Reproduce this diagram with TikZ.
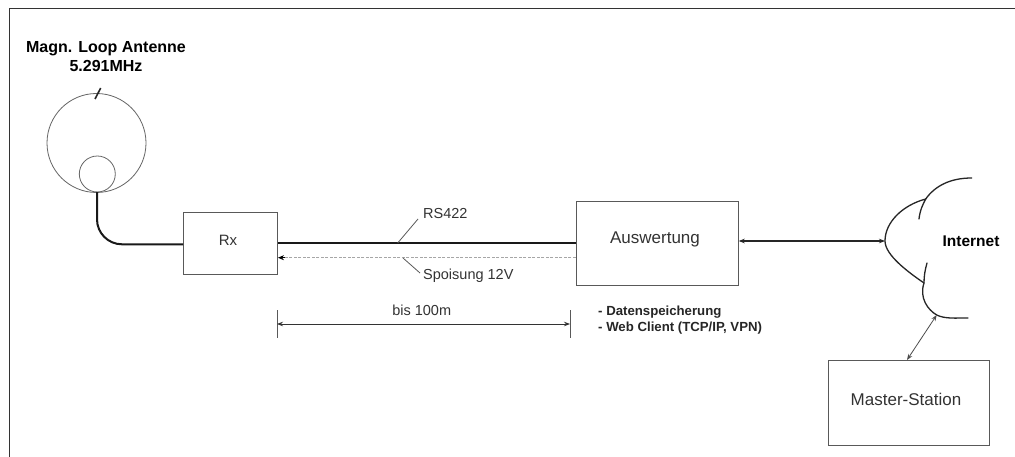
\documentclass[tikz,border=0pt]{standalone}
\usepackage{fontspec}
\setmainfont{Liberation Sans}
\usetikzlibrary{arrows.meta}
\tikzset{
  x=1pt,y=-1pt,
  boxn/.style={draw=black!65,line width=1.2pt,fill=white,inner sep=0pt,anchor=north west},
  thin line/.style={draw=black!65,line width=.8pt},
  cloud line/.style={draw=black!85,line width=1.3pt,line cap=round},
  cable/.style={draw=black!90,line width=2pt},
  tipb/.style={{Stealth[length=6pt,width=4.5pt]}-{Stealth[length=6pt,width=4.5pt]}},
  lab/.style={inner sep=0pt,text=black!80},
  labb/.style={inner sep=0pt,text=black,font=\bfseries\fontsize{16}{19}\selectfont},
  small text/.style={lab,font=\fontsize{14.5}{17}\selectfont},
  big text/.style={lab,font=\fontsize{17}{20}\selectfont},
}
\begin{document}
\begin{tikzpicture}
\useasboundingbox (0,0) rectangle (1015,457);
\fill[white] (0,0) rectangle (1015,457);
\coordinate (fa) at (9.5,457);\coordinate (fb) at (9.5,8.5);\coordinate (fc) at (1015,8.5);
\draw[black!80,line width=1pt] (fa) -- (fb) -- (fc);
% antenna
\node[labb,align=center] (title) at (106,56.5) {Magn. Loop Antenne\\5.291MHz};
\node[draw=black!60,line width=.8pt,circle,minimum size=99pt,inner sep=0pt] (loop) at (96.5,143) {};
\node[draw=black!60,line width=.8pt,circle,minimum size=36pt,inner sep=0pt] (small) at (97.3,174) {};
\coordinate (gap1) at (95,99);\coordinate (gap2) at (100.7,88);
\draw[black!85,line width=1.6pt] (gap1) -- (gap2);
% boxes
\node[boxn,minimum width=94pt,minimum height=62pt] (rx) at (183,212) {};
\node[small text,font=\fontsize{15}{18}\selectfont] (rxt) at (228,240) {Rx};
\node[boxn,minimum width=162pt,minimum height=84pt] (aus) at (575.5,201) {};
\node[big text] (aust) at (655,239) {Auswertung};
\node[boxn,minimum width=161pt,minimum height=85pt] (ms) at (828,360) {};
\node[big text] (mst) at (906,399) {Master-Station};
% cables
\coordinate (cstart) at (97,192);
\draw[cable,rounded corners=25pt] (cstart) -- (97,244.3) -- (rx.west |- 0,244.3);
\draw[cable] (rx.east |- 0,243) -- (aus.west |- 0,243);
\draw[draw=black!35,line width=1.6pt,dash pattern=on 3pt off 1.5pt] (aus.west |- 0,257.7) -- (285,257.7);
\coordinate (pt) at (278,257.7);
\draw[-{Stealth[length=6pt,width=5pt]},black,line width=.6pt] (285,257.7) -- (pt);
% leaders
\node[small text,anchor=west] (rs) at (423,214) {RS422};
\node[small text,anchor=west] (sp) at (423,276) {Spoisung 12V};
\coordinate (rs1) at (397.7,243);\coordinate (rs2) at (418,219);
\draw[thin line] (rs1) -- (rs2);
\coordinate (sp1) at (403,258);\coordinate (sp2) at (420,273);
\draw[thin line] (sp1) -- (sp2);
% dimension
\coordinate (d1a) at (277,310);\coordinate (d1b) at (277,338);
\coordinate (d2a) at (570,310);\coordinate (d2b) at (570,338);
\draw[thin line] (d1a) -- (d1b);
\draw[thin line] (d2a) -- (d2b);
\coordinate (d1) at (277,324);\coordinate (d2) at (570,324);
\draw[tipb,black!80,line width=.9pt] (d1) -- (d2);
\node[small text] (bis) at (421.7,310.7) {bis 100m};
% notes
\node[inner sep=0pt,anchor=west,align=left,text=black!85,font=\bfseries\fontsize{13.2}{16.5}\selectfont] (notes) at (598,320) {- Datenspeicherung\\- Web Client (TCP/IP, VPN)};
% internet
\node[labb,font=\bfseries\fontsize{15.5}{18}\selectfont] (inet) at (971,241) {Internet};
\coordinate (c1) at (971.7,178);\coordinate (c2) at (925.7,199);\coordinate (c3) at (885,241);
\coordinate (c4) at (924,283);\coordinate (c5) at (968,318);\coordinate (c6) at (936.7,315);
\draw[cloud line] (c1) .. controls (950,178) and (935,186) .. (c2);
\draw[cloud line] (919,219) .. controls (920,210) and (923,204) .. (c2) .. controls (903,205) and (885,222) .. (c3) .. controls (885,255) and (908,272) .. (c4);
\draw[cloud line] (927,263) .. controls (925,270) and (924,276) .. (c4) .. controls (919,298) and (928,310) .. (c6) .. controls (945,319) and (955,318) .. (c5);
% links
\draw[tipb,black!85,line width=1.3pt] (aus.east |- 0,241) -- (c3);
\draw[tipb,black!70,line width=.8pt] (c6) -- (907,360);
\end{tikzpicture}
\end{document}
